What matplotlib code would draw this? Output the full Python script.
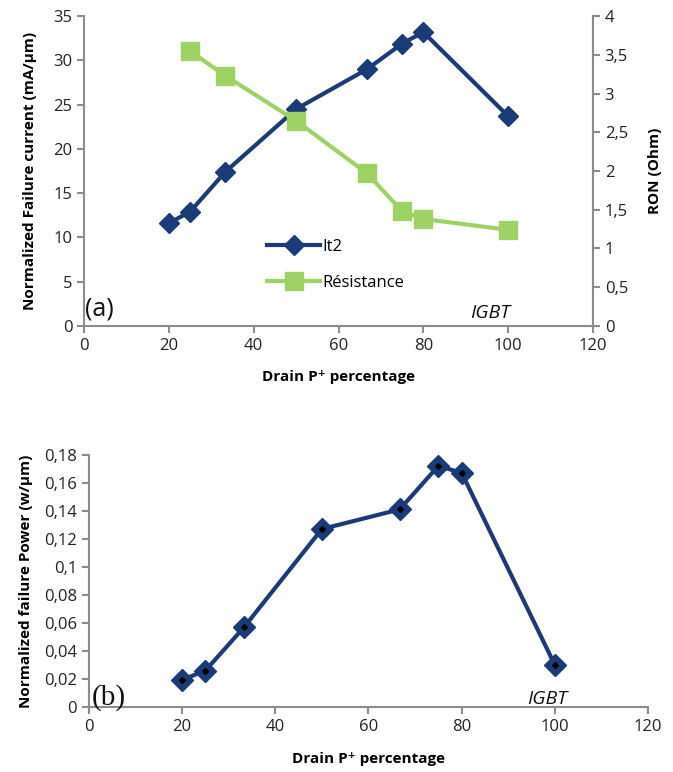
import matplotlib.pyplot as plt
from matplotlib.ticker import FuncFormatter

# Data
drain_pct = [20, 25, 33.3, 50, 66.7, 75, 80, 100]
it2 = [11.6, 12.9, 17.4, 24.5, 29.0, 31.9, 33.2, 23.7]

res_pct = [25, 33.3, 50, 66.7, 75, 80, 100]
resistance = [3.55, 3.23, 2.65, 1.97, 1.48, 1.38, 1.24]

power = [0.0195, 0.026, 0.057, 0.127, 0.141, 0.172, 0.167, 0.030]

navy = '#1B3A78'
green = '#9FD264'
axis_grey = '#8C8C8C'

plt.rcParams['font.family'] = ['Open Sans', 'DejaVu Sans']


def comma(x, pos):
    # decimal comma, like the original French chart
    s = ('%g' % x).replace('.', ',')
    return s


def style_axis(ax, sides):
    for side in ['top', 'right', 'left', 'bottom']:
        ax.spines[side].set_visible(side in sides)
        ax.spines[side].set_color(axis_grey)
        ax.spines[side].set_linewidth(1.5)
    ax.tick_params(colors=axis_grey, labelcolor='#222222', labelsize=12,
                   length=5, width=1.5)


fig = plt.figure(figsize=(6.73, 7.72), dpi=100)

# (a) failure current and resistance
ax1 = fig.add_axes([0.125, 0.578, 0.756, 0.401])
ax1.plot(drain_pct, it2, color=navy, lw=3, marker='D', ms=10, label='It2')
ax1.set_xlim(0, 120)
ax1.set_ylim(0, 35)
ax1.set_xticks(range(0, 121, 20))
ax1.set_yticks(range(0, 36, 5))
ax1.set_xlabel('Drain P⁺ percentage', fontsize=11, fontweight='bold', labelpad=12)
ax1.set_ylabel('Normalized Failure current (mA/µm)', fontsize=11,
               fontweight='bold', labelpad=12)
style_axis(ax1, ['left', 'bottom'])

ax2 = ax1.twinx()
ax2.plot(res_pct, resistance, color=green, lw=3, marker='s', ms=13, label='Résistance')
ax2.set_ylim(0, 4)
ax2.set_yticks([0, 0.5, 1, 1.5, 2, 2.5, 3, 3.5, 4])
ax2.yaxis.set_major_formatter(FuncFormatter(comma))
ax2.set_ylabel('RON (Ohm)', fontsize=11, fontweight='bold', labelpad=14)
style_axis(ax2, ['right'])

h1, l1 = ax1.get_legend_handles_labels()
h2, l2 = ax2.get_legend_handles_labels()
ax2.legend(h1 + h2, l1 + l2, loc='upper left', bbox_to_anchor=(0.33, 0.33),
           frameon=False, fontsize=12, handlelength=3.2, handletextpad=0.1,
           labelspacing=1.2)

ax1.text(0.2, 1.2, '(a)', fontsize=18, color='#111111')
ax1.text(91, 0.9, 'IGBT', fontsize=14, style='italic', color='#111111')

# (b) failure power
ax3 = fig.add_axes([0.132, 0.084, 0.831, 0.327])
ax3.plot(drain_pct, power, color=navy, lw=3, marker='D', ms=11,
         markeredgecolor=navy, markerfacecolor=navy)
ax3.plot(drain_pct, power, ls='none', marker='D', ms=3, color='black')
ax3.set_xlim(0, 120)
ax3.set_ylim(0, 0.18)
ax3.set_xticks(range(0, 121, 20))
ax3.set_yticks([0, 0.02, 0.04, 0.06, 0.08, 0.1, 0.12, 0.14, 0.16, 0.18])
ax3.yaxis.set_major_formatter(FuncFormatter(comma))
ax3.set_xlabel('Drain P⁺ percentage', fontsize=11, fontweight='bold', labelpad=12)
ax3.set_ylabel('Normalized failure Power (w/µm)', fontsize=11, fontweight='bold',
               labelpad=8)
style_axis(ax3, ['left', 'bottom'])

ax3.text(0.6, 0.002, '(b)', fontsize=21, family='Liberation Serif', color='#111111')
ax3.text(94, 0.002, 'IGBT', fontsize=14, style='italic', color='#111111')

fig.savefig('out.png', dpi=100)
